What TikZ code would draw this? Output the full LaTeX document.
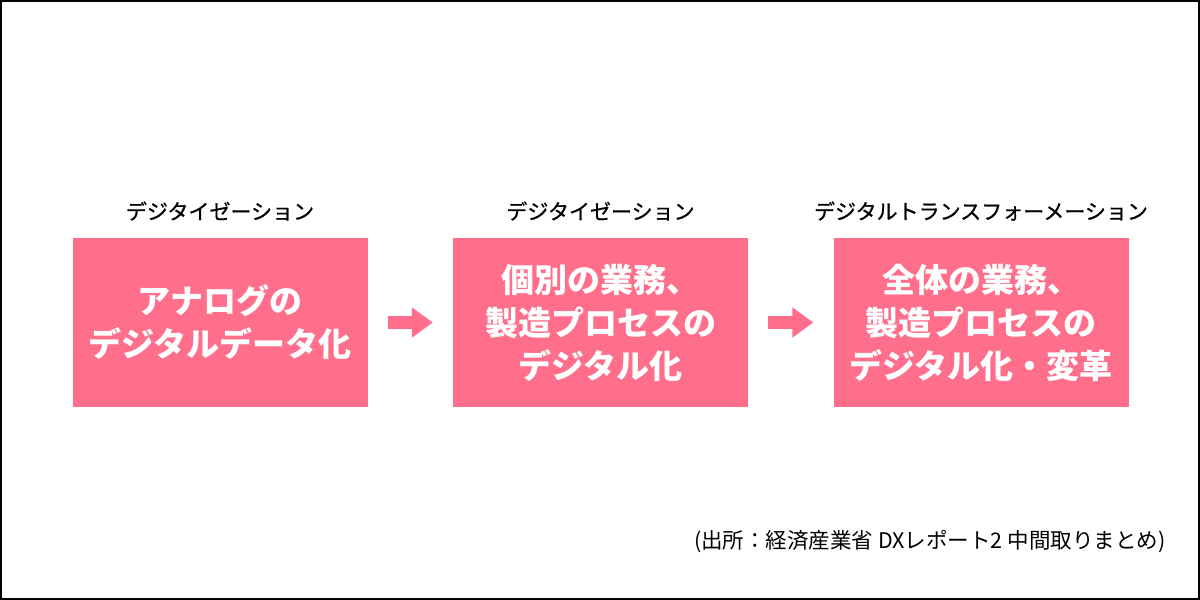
\documentclass[tikz,border=0pt]{standalone}
\usepackage{fontspec}
\setmainfont{Noto Sans CJK JP}
\newfontfamily\labelfont[FakeBold=0.8]{Noto Sans CJK JP}
\usetikzlibrary{arrows.meta}
\definecolor{dxpink}{HTML}{FF6F8B}

\begin{document}
\begin{tikzpicture}[x=1pt, y=-1pt,
	stage/.style={fill=dxpink, minimum width=295pt, minimum height=169pt, inner sep=0pt, text=white, align=center, font=\fontsize{33}{43}\selectfont\bfseries},
	phase/.style={font=\labelfont\fontsize{21}{24}\selectfont},
	note/.style={font=\fontsize{21.5}{24}\selectfont},
	flow/.style={dxpink, line width=13pt, -{Triangle[length=21pt, width=29pt]}}]
		\useasboundingbox (0,0) rectangle (1200,600);
		\draw[line width=2pt] (1,1) rectangle (1199,599);
		\node[stage] (s1) at (220,322.5) {アナログの\\デジタルデータ化};
		\node[stage] (s2) at (600.5,322.5) {個別の業務、\\製造プロセスの\\デジタル化};
		\node[stage] (s3) at (981,322.5) {全体の業務、\\製造プロセスの\\デジタル化・変革};
		\node[phase] (p1) at (220,211) {デジタイゼーション};
		\node[phase] (p2) at (600.5,211) {デジタイゼーション};
		\node[phase] (p3) at (981,211) {デジタルトランスフォーメーション};
		\node[note, anchor=east] (src) at (1169,541) {(出所：経済産業省 DXレポート2 中間取りまとめ)};
		\draw[flow] ([xshift=20pt]s1.east) -- ([xshift=-20pt]s2.west);
		\draw[flow] ([xshift=20pt]s2.east) -- ([xshift=-20pt]s3.west);
	\end{tikzpicture}
\end{document}
